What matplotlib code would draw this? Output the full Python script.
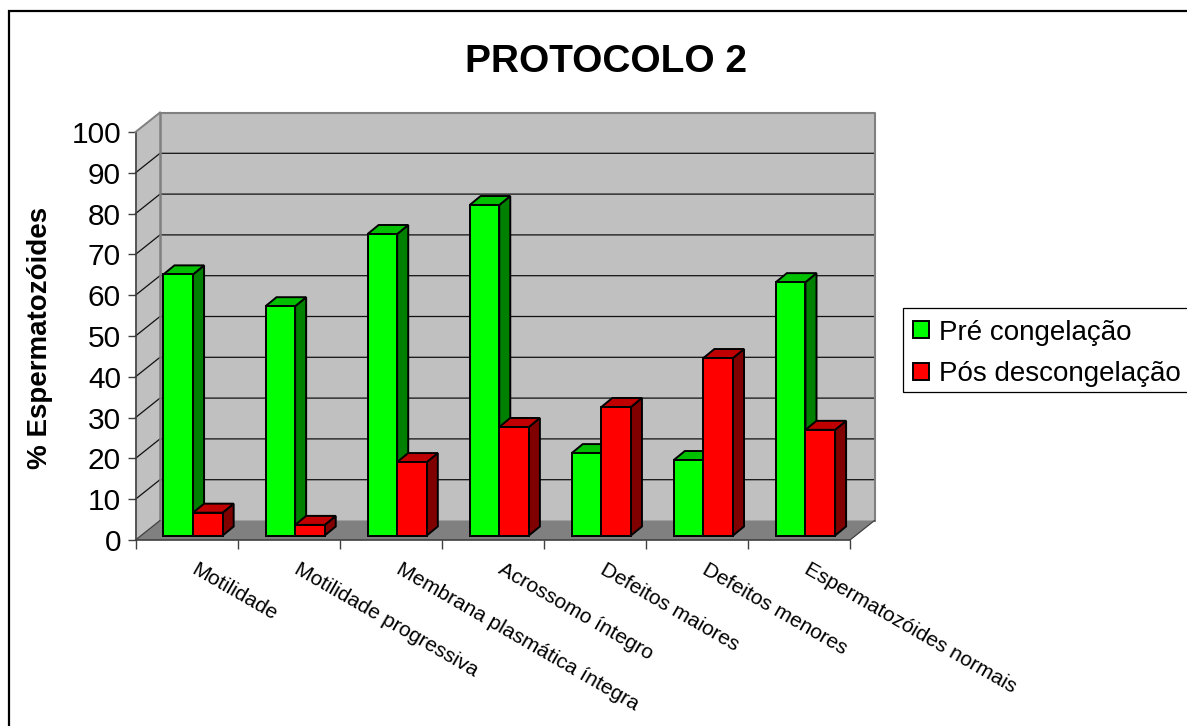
import matplotlib
matplotlib.use("Agg")
import matplotlib.pyplot as plt
from matplotlib.patches import Polygon, Patch, Rectangle

categories = ["Motilidade", "Motilidade progressiva", "Membrana plasmática íntegra",
              "Acrossomo íntegro", "Defeitos maiores", "Defeitos menores",
              "Espermatozóides normais"]
pre_congelacao = [64.0, 56.2, 73.9, 81.0, 20.2, 18.5, 62.1]
pos_descongelacao = [5.6, 2.6, 18.0, 26.6, 31.5, 43.5, 25.9]
y_ticks = list(range(0, 101, 10))

W, H = 1187, 726
plt.rcParams["font.family"] = ["Liberation Sans", "DejaVu Sans"]
fig = plt.figure(figsize=(W / 100, H / 100), dpi=100)

# Outer chart frame runs past the right and bottom edges of the canvas
fig.add_artist(Rectangle((9.5 / W, -0.05), 1.2, 1 - 11 / H + 0.05, transform=fig.transFigure,
                         fill=False, ec="black", lw=1.6))

left, right, base, top = 135.5, 850.0, 540.0, 132.0
ax = fig.add_axes([left / W, 1 - base / H, (right - left) / W, (base - top) / H])
n = len(categories)
ax.set_xlim(0, n)
ax.set_ylim(0, 100)
ax.patch.set_visible(False)
for name in ("top", "right"):
    ax.spines[name].set_visible(False)
for name in ("left", "bottom"):
    ax.spines[name].set_color("#404040")
    ax.spines[name].set_linewidth(1.2)

px_x = n / (right - left)
px_y = 100 / (base - top)
# Oblique projection offsets of the plot box and of the bars
box_dx, box_dy = 24.5 * px_x, 19.5 * px_y
bar_dx, bar_dy = 11 * px_x, 9 * px_y
lift_dx, lift_dy = 5 * px_x, 4.5 * px_y
bar_start, bar_w = 0.225 + lift_dx, 0.29


def poly(points, face, edge="none", lw=0.0, z=1):
    ax.add_patch(Polygon(points, closed=True, fc=face, ec=edge, lw=lw, zorder=z,
                         clip_on=False, joinstyle="miter"))


# Walls and floor
poly([(0, 0), (box_dx, box_dy), (box_dx, 100 + box_dy), (0, 100)], "#C0C0C0", z=1)
poly([(box_dx, box_dy), (n + box_dx, box_dy), (n + box_dx, 100 + box_dy), (box_dx, 100 + box_dy)],
     "#C0C0C0", z=1)
poly([(0, 0), (n, 0), (n + box_dx, box_dy), (box_dx, box_dy)], "#808080", z=1)

for v in y_ticks[1:-1]:
    ax.plot([0, box_dx, n + box_dx], [v, v + box_dy, v + box_dy], color="#101010", lw=0.9,
            zorder=2, clip_on=False, solid_joinstyle="miter")
ax.plot([0, box_dx], [100, 100 + box_dy], color="#808080", lw=1.4, zorder=3, clip_on=False)
ax.plot([box_dx, box_dx], [box_dy, 100 + box_dy], color="#808080", lw=1.8, zorder=3, clip_on=False)
ax.plot([box_dx, n + box_dx, n + box_dx], [100 + box_dy, 100 + box_dy, box_dy], color="#808080",
        lw=1.5, zorder=3, clip_on=False)
ax.plot([n, n + box_dx], [0, box_dy], color="#404040", lw=0.9, zorder=3, clip_on=False)
ax.plot([0, box_dx], [0, box_dy], color="#404040", lw=0.9, zorder=3, clip_on=False)


def bar3d(x, value, front, top_face, side, z):
    x0, x1 = x, x + bar_w
    y0, y1 = lift_dy, lift_dy + value
    kw = dict(edge="black", lw=1.4, z=z)
    poly([(x1, y0), (x1 + bar_dx, y0 + bar_dy), (x1 + bar_dx, y1 + bar_dy), (x1, y1)], side, **kw)
    poly([(x0, y1), (x1, y1), (x1 + bar_dx, y1 + bar_dy), (x0 + bar_dx, y1 + bar_dy)], top_face, **kw)
    poly([(x0, y0), (x1, y0), (x1, y1), (x0, y1)], front, **kw)


for i, (a, b) in enumerate(zip(pre_congelacao, pos_descongelacao)):
    bar3d(i + bar_start, a, "#00FF00", "#00C000", "#008000", 4 + 2 * i)
    bar3d(i + bar_start + bar_w, b, "#FF0000", "#C00000", "#800000", 5 + 2 * i)

# Value axis
ax.set_yticks(y_ticks)
ax.tick_params(axis="y", length=6, width=1.0, color="#404040", labelsize=21.5, pad=4.5)
fig.text(40.5 / W, 1 - 338 / H, "% Espermatozóides", rotation=90, ha="center", va="center",
         fontsize=20, fontweight="bold")

# Category axis with slanted labels
ax.set_xticks(range(n + 1))
ax.set_xticklabels([])
ax.tick_params(axis="x", length=6.5, width=1.0, color="#404040")
for i, label in enumerate(categories):
    ax.annotate(label, xy=(i + 0.5, 0), xycoords="data", xytext=(5, -20), textcoords="offset points",
                fontsize=15, rotation=-30, rotation_mode="anchor", ha="left", va="center",
                annotation_clip=False)

fig.text(606 / W, 1 - 62.5 / H, "PROTOCOLO 2", ha="center", va="center", fontsize=28, fontweight="bold")

# Legend box sits behind the entries and is cut off by the canvas edge
fig.add_artist(Rectangle((902.5 / W, 1 - 391.5 / H), 300 / W, 84 / H, transform=fig.transFigure,
                         fc="white", ec="black", lw=0.9))
handles = [Patch(fc="#00FF00", ec="black", lw=1.4, label="Pré congelação"),
           Patch(fc="#FF0000", ec="black", lw=1.4, label="Pós descongelação")]
fig.legend(handles=handles, loc="upper left", bbox_to_anchor=(902 / W, 1 - 309 / H),
           fontsize=20, frameon=False, borderaxespad=0, borderpad=0.38, labelspacing=0.57,
           handlelength=0.58, handleheight=0.58, handletextpad=0.36)

fig.savefig("out.png", dpi=100)
